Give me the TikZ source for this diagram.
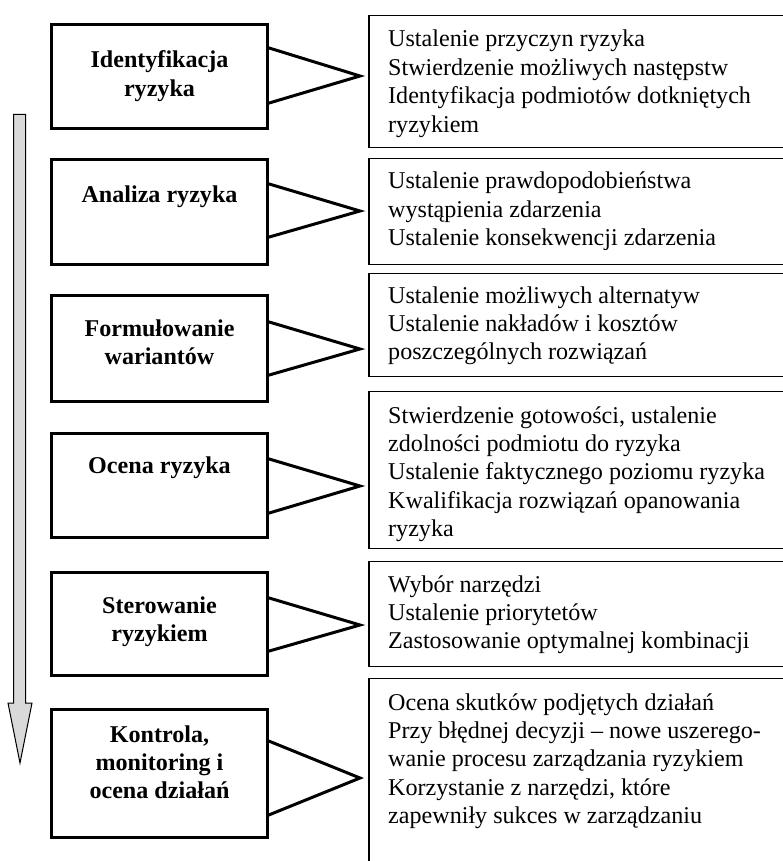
\documentclass[tikz,border=0pt]{standalone}
\usepackage{fontspec}
\setmainfont{Liberation Serif}
\usetikzlibrary{calc}
\definecolor{arrowgray}{HTML}{D9D9D9}
\newcommand{\txtsize}{\fontsize{24.1pt}{28.4pt}\selectfont}
\begin{document}
\begin{tikzpicture}[x=1pt,y=-1pt,
  lbox/.style={draw=black,line width=3pt,rectangle,minimum width=216pt,inner sep=0pt,outer sep=0pt},
  rbox/.style={draw=black,line width=1.5pt,rectangle,minimum width=431pt,inner sep=0pt,outer sep=0pt,anchor=north west},
  ltext/.style={inner sep=0pt,anchor=base},
  rtext/.style={inner sep=0pt,anchor=base west},
  wedge/.style={draw=black,line width=3pt,line join=miter},
  bigarrow/.style={draw=black,line width=1pt,fill=arrowgray}]
\useasboundingbox (0,0) rectangle (782,861);
% process arrow
\draw[bigarrow] (13.5,114.5) -- (25.5,114.5) -- (25.5,703) -- (32,703) -- (20,763) -- (8,703) -- (13.5,703) -- cycle;
% left boxes
\node[lbox,minimum height=104pt] (L1) at (159.5,76.5) {};
\node[lbox,minimum height=105pt] (L2) at (159.5,212) {};
\node[lbox,minimum height=106pt] (L3) at (159.5,348.5) {};
\node[lbox,minimum height=104pt] (L4) at (159.5,485.5) {};
\node[lbox,minimum height=103pt] (L5) at (159.5,624) {};
\node[lbox,minimum height=128pt] (L6) at (159.5,773.5) {};
% left texts
\node[ltext] (L1t) at (159.5,68) {\parbox[t]{212pt}{\centering\bfseries\txtsize Identyfikacja\\ryzyka}};
\node[ltext] (L2t) at (159.5,202) {\parbox[t]{212pt}{\centering\bfseries\txtsize Analiza ryzyka}};
\node[ltext] (L3t) at (159.5,336) {\parbox[t]{212pt}{\centering\bfseries\txtsize Formułowanie\\wariantów}};
\node[ltext] (L4t) at (159.5,473) {\parbox[t]{212pt}{\centering\bfseries\txtsize Ocena ryzyka}};
\node[ltext] (L5t) at (159.5,613) {\parbox[t]{212pt}{\centering\bfseries\txtsize Sterowanie\\ryzykiem}};
\node[ltext] (L6t) at (159.5,742) {\parbox[t]{212pt}{\centering\bfseries\txtsize Kontrola,\\monitoring i\\ocena działań}};
% right boxes
\node[rbox,minimum height=132pt] (R1) at (369,15.7) {};
\node[rbox,minimum height=106pt] (R2) at (369,158.7) {};
\node[rbox,minimum height=103pt] (R3) at (369,273.7) {};
\node[rbox,minimum height=157pt] (R4) at (369,391.7) {};
\node[rbox,minimum height=105pt] (R5) at (369,561.7) {};
\node[rbox,minimum height=200pt] (R6) at (369,678.7) {};
% right texts
\node[rtext] (R1t) at (388,47) {\parbox[t]{390pt}{\raggedright\txtsize Ustalenie przyczyn ryzyka\\Stwierdzenie możliwych następstw\\Identyfikacja podmiotów dotkniętych\\ryzykiem}};
\node[rtext] (R2t) at (388,189) {\parbox[t]{390pt}{\raggedright\txtsize Ustalenie prawdopodobieństwa\\wystąpienia zdarzenia\\Ustalenie konsekwencji zdarzenia}};
\node[rtext] (R3t) at (388,303) {\parbox[t]{390pt}{\raggedright\txtsize Ustalenie możliwych alternatyw\\Ustalenie nakładów i kosztów\\poszczególnych rozwiązań}};
\node[rtext] (R4t) at (388,423) {\parbox[t]{390pt}{\raggedright\txtsize Stwierdzenie gotowości, ustalenie\\zdolności podmiotu do ryzyka\\Ustalenie faktycznego poziomu ryzyka\\Kwalifikacja rozwiązań opanowania\\ryzyka}};
\node[rtext] (R5t) at (388,592) {\parbox[t]{390pt}{\raggedright\txtsize Wybór narzędzi\\Ustalenie priorytetów\\Zastosowanie optymalnej kombinacji}};
\node[rtext] (R6t) at (388,710) {\parbox[t]{390pt}{\raggedright\txtsize Ocena skutków podjętych działań\\Przy błędnej decyzji – nowe uszerego-\\wanie procesu zarządzania ryzykiem\\Korzystanie z narzędzi, które\\zapewniły sukces w zarządzaniu}};
% wedge tips
\coordinate (t1) at (360,76);
\coordinate (t2) at (360,211);
\coordinate (t3) at (360,349);
\coordinate (t4) at (360,486);
\coordinate (t5) at (360,625);
\coordinate (t6) at (360,778);
% wedges
\draw[wedge] ([yshift=-23pt]L1.north east) -- (t1) -- ([yshift=25pt]L1.south east);
\draw[wedge] ([yshift=-24pt]L2.north east) -- (t2) -- ([yshift=27pt]L2.south east);
\draw[wedge] ([yshift=-26pt]L3.north east) -- (t3) -- ([yshift=26pt]L3.south east);
\draw[wedge] ([yshift=-25pt]L4.north east) -- (t4) -- ([yshift=24pt]L4.south east);
\draw[wedge] ([yshift=-25pt]L5.north east) -- (t5) -- ([yshift=24pt]L5.south east);
\draw[wedge] ([yshift=-31pt]L6.north east) -- (t6) -- ([yshift=22pt]L6.south east);
\end{tikzpicture}
\end{document}
